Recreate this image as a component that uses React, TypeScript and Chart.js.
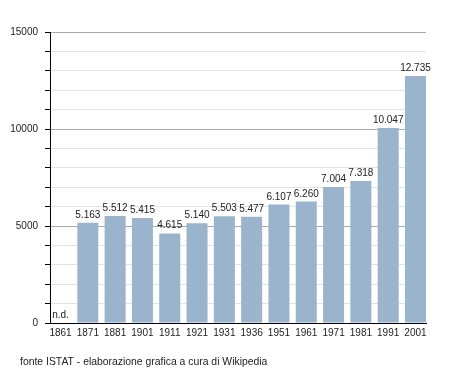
import React, { useEffect, useRef } from "react";
import { Chart, registerables } from "chart.js";

Chart.register(...registerables);

const years: string[] = ["1861", "1871", "1881", "1901", "1911", "1921", "1931", "1936", "1951", "1961", "1971", "1981", "1991", "2001"];
const population: number[] = [0, 5163, 5512, 5415, 4615, 5140, 5503, 5477, 6107, 6260, 7004, 7318, 10047, 12735];
const valueLabels: string[] = ["n.d.", "5.163", "5.512", "5.415", "4.615", "5.140", "5.503", "5.477", "6.107", "6.260", "7.004", "7.318", "10.047", "12.735"];
const footerText = "fonte ISTAT - elaborazione grafica a cura di Wikipedia";

const FONT = "'Liberation Sans', Arial, sans-serif";

export default function App() {
  const ref = useRef<HTMLCanvasElement | null>(null);

  useEffect(() => {
    document.body.style.margin = "0";
    const canvas = ref.current;
    if (!canvas) return;

    const labelsPlugin = {
      id: "valueLabels",
      afterDatasetsDraw(chart: any) {
        const ctx = chart.ctx;
        const meta = chart.getDatasetMeta(0);
        ctx.save();
        ctx.font = `10px ${FONT}`;
        ctx.fillStyle = "#222";
        ctx.textAlign = "center";
        ctx.textBaseline = "alphabetic";
        meta.data.forEach((bar: any, i: number) => {
          ctx.fillText(valueLabels[i], bar.x, bar.y - 5);
        });
        ctx.restore();
      },
      afterDraw(chart: any) {
        const ctx = chart.ctx;
        ctx.save();
        ctx.font = `10.4px ${FONT}`;
        ctx.fillStyle = "#222";
        ctx.textAlign = "left";
        ctx.textBaseline = "alphabetic";
        ctx.fillText(footerText, 20, 365);
        ctx.restore();
      },
    };

    const chart = new Chart(canvas, {
      type: "bar",
      data: {
        datasets: [
          {
            data: population.map((v, i) => ({ x: i, y: v })),
            backgroundColor: "#9bb4cd",
            borderWidth: 0,
            barPercentage: 0.77,
            categoryPercentage: 1,
          },
        ],
      },
      options: {
        animation: false,
        responsive: false,
        maintainAspectRatio: false,
        layout: { padding: { left: 0, right: 29, top: 32, bottom: 0 } },
        plugins: { legend: { display: false }, tooltip: { enabled: false } },
        scales: {
          x: {
            type: "linear",
            offset: false,
            min: -0.385,
            max: 13.385,
            afterBuildTicks: (scale: any) => {
              scale.ticks = years.map((_, i) => ({ value: i }));
            },
            afterFit: (scale: any) => {
              scale.height = 50;
            },
            grid: { display: false, drawTicks: false, offset: false },
            border: { display: true, color: "#000", width: 1 },
            ticks: {
              autoSkip: false,
              maxRotation: 0,
              padding: 4,
              color: "#222",
              font: { family: FONT, size: 10 },
              callback: (v: any) => years[v] ?? "",
            },
          },
          y: {
            min: 0,
            max: 15000,
            afterFit: (scale: any) => {
              scale.width = 50;
            },
            grid: {
              color: (c: any) => (c.tick && c.tick.value % 5000 === 0 ? "#aaaaaa" : "#e3e3e3"),
              tickColor: "#000",
              tickLength: 5,
              lineWidth: 1,
            },
            border: { display: true, color: "#000", width: 1 },
            ticks: {
              stepSize: 1000,
              padding: 7,
              color: "#222",
              font: { family: FONT, size: 10 },
              callback: (v: any) => (Number(v) % 5000 === 0 ? String(v) : ""),
            },
          },
        },
      },
      plugins: [labelsPlugin],
    });

    return () => chart.destroy();
  }, []);

  return (
    <div style={{ width: 455, height: 373, background: "#fff" }}>
      <canvas ref={ref} width={455} height={373} style={{ display: "block" }} />
    </div>
  );
}
